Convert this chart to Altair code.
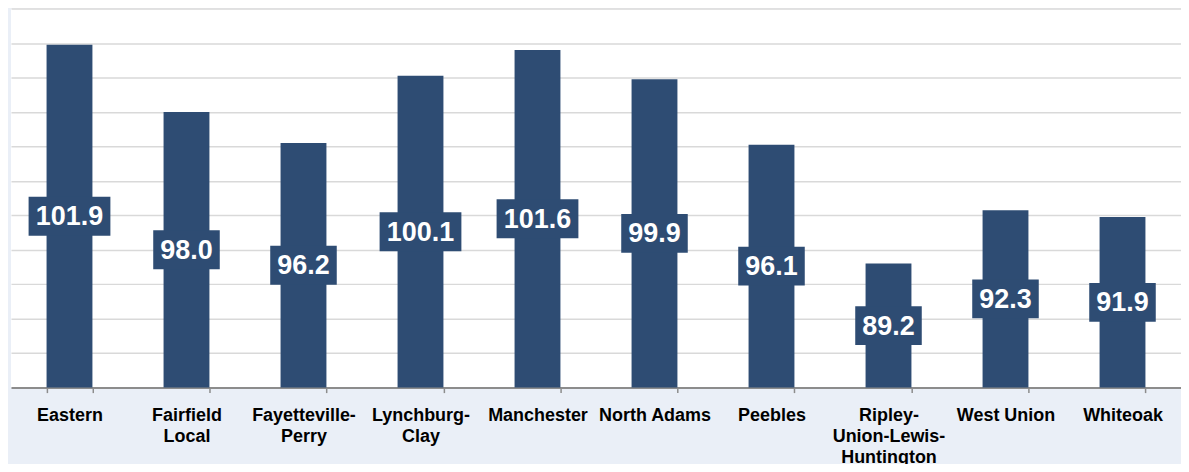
import altair as alt
import pandas as pd

schools = ["Eastern", "Fairfield Local", "Fayetteville-Perry", "Lynchburg-Clay",
           "Manchester", "North Adams", "Peebles", "Ripley-Union-Lewis-Huntington",
           "West Union", "Whiteoak"]
values = [101.9, 98.0, 96.2, 100.1, 101.6, 99.9, 96.1, 89.2, 92.3, 91.9]
label_lines = [["Eastern"], ["Fairfield", "Local"], ["Fayetteville-", "Perry"],
               ["Lynchburg-", "Clay"], ["Manchester"], ["North Adams"], ["Peebles"],
               ["Ripley-", "Union-Lewis-", "Huntington"], ["West Union"], ["Whiteoak"]]
y_min, y_max = 82, 104
grid_values = list(range(84, 105, 2))

df = pd.DataFrame({"school": schools, "value": values})

# build a label expression mapping each school to its wrapped lines
expr = "datum.label"
for name, lines in reversed(list(zip(schools, label_lines))):
    arr = "[" + ",".join("'" + l + "'" for l in lines) + "]"
    expr = f"datum.label == '{name}' ? {arr} : ({expr})"

BAR = "#2E4C73"
FONT = "Liberation Sans"

x_axis = alt.Axis(labelExpr=expr, labelAngle=0, labelFont=FONT,
                  labelFontSize=18, labelFontWeight="bold",
                  labelColor="#000000", labelBaseline="top",
                  labelLineHeight=21, labelPadding=14,
                  tickBand="extent", tickSize=5, tickColor="#8C8C8C",
                  tickWidth=1.5, domainColor="#8C8C8C", domainWidth=2,
                  grid=False, labelLimit=220)
y_axis = alt.Axis(values=grid_values, labels=False, ticks=False,
                  domain=False, grid=True, gridColor="#D9D9D9",
                  gridWidth=1.5, tickCount=len(grid_values))

x_scale = alt.Scale(paddingInner=0.608, paddingOuter=0.304)
y_scale = alt.Scale(domain=[y_min, y_max], nice=False, zero=False)

base = alt.Chart(df).transform_calculate(
    mid=f"({y_min} + datum.value) / 2",
    label="format(datum.value, '.1f')",
).transform_calculate(
    boxw="length(datum.label) * 15.3 + 5.5"
)

bars = base.mark_bar(color=BAR).encode(
    x=alt.X("school:N", sort=schools, title=None, scale=x_scale, axis=x_axis),
    y=alt.Y("value:Q", scale=y_scale, title=None, axis=y_axis),
    y2=alt.datum(y_min),
)

boxes = base.mark_tick(color=BAR, thickness=39, opacity=1).encode(
    x=alt.X("school:N", sort=schools, title=None, scale=x_scale, axis=x_axis),
    y=alt.Y("mid:Q", scale=y_scale, title=None, axis=y_axis),
    size=alt.Size("boxw:Q", scale=None, legend=None),
)

texts = base.mark_text(color="white", font=FONT, fontSize=27,
                       fontWeight="bold", baseline="middle", dy=1).encode(
    x=alt.X("school:N", sort=schools, title=None, scale=x_scale, axis=x_axis),
    y=alt.Y("mid:Q", scale=y_scale, title=None, axis=y_axis),
    text="label:N",
)

chart = alt.layer(bars, boxes, texts).properties(
    width=1173, height=380,
    padding={"left": 3, "top": 0, "right": 0, "bottom": 76},
    autosize=alt.AutoSizeParams(type="none"),
    background="#EAEFF7",
).configure_view(fill="white", stroke=None)

chart.save("out.html", embed_options={"renderer": "svg", "actions": False})
